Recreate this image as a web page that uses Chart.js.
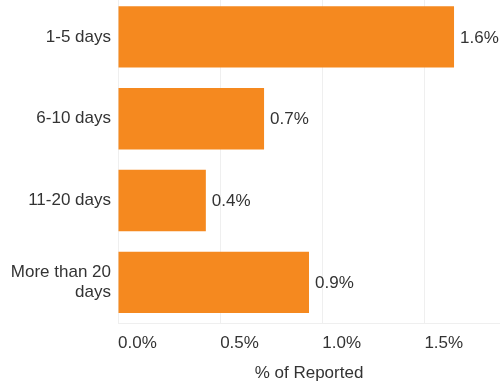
<!DOCTYPE html>
<html>
<head>
<meta charset="utf-8">
<script src="https://cdn.jsdelivr.net/npm/chart.js@4"></script>
<style>
  body { margin: 0; background: #fff; overflow: hidden; }
  #wrap { position: relative; width: 500px; height: 383px; overflow: hidden; }
  #chart { position: absolute; left: 0; top: -4px; }
</style>
</head>
<body>
<div id="wrap"><canvas id="chart" width="500" height="389"></canvas></div>
<script>
const categories = [["1-5 days"], ["6-10 days"], ["11-20 days"], ["More than 20", "days"]];
const reported = [1.645, 0.715, 0.43, 0.935];
const valueLabels = ["1.6%", "0.7%", "0.4%", "0.9%"];
const tickValues = [0, 0.5, 1.0, 1.5];

const fontFamily = '"Liberation Sans", Arial, sans-serif';

// draws the value next to each bar end
const barLabels = {
    id: 'barLabels',
    afterDatasetsDraw(chart) {
        const ctx = chart.ctx;
        const meta = chart.getDatasetMeta(0);
        ctx.save();
        ctx.font = '17px ' + fontFamily;
        ctx.fillStyle = '#333';
        ctx.textAlign = 'left';
        ctx.textBaseline = 'middle';
        meta.data.forEach(function(bar, i) {
            ctx.fillText(valueLabels[i], bar.x + 6, bar.y + 1);
        });
        ctx.restore();
    }
};

new Chart("chart", {
    type: 'bar',
    data: {
        labels: categories,
        datasets: [{
            data: reported,
            backgroundColor: "#F5891F",
            barPercentage: 0.75,
            categoryPercentage: 1
        }]
    },
    options: {
        indexAxis: 'y',
        responsive: false,
        animation: false,
        layout: {
            padding: { top: 0, right: 0, bottom: 0, left: 0 }
        },
        plugins: {
            legend: { display: false },
            tooltip: { enabled: false }
        },
        scales: {
            x: {
                min: 0,
                max: 1.87,
                afterBuildTicks: function(axis) {
                    axis.ticks = tickValues.map(v => ({ value: v }));
                },
                grid: { color: '#efefef', drawTicks: false },
                border: { display: true, color: '#efefef' },
                ticks: {
                    align: 'start',
                    padding: 10,
                    color: '#333',
                    font: { size: 17, family: fontFamily },
                    callback: function(v) { return v.toFixed(1) + '%'; }
                },
                title: {
                    display: true,
                    text: '% of Reported',
                    color: '#333',
                    padding: { top: 0, bottom: 1 },
                    font: { size: 17, family: fontFamily }
                }
            },
            y: {
                grid: { display: false, drawTicks: false, tickLength: 0 },
                border: { display: false },
                afterFit: function(scale) {
                    scale.width = 118;
                    scale.paddingTop = 0;
                    scale.paddingBottom = 0;
                },
                ticks: {
                    padding: 7,
                    color: '#333',
                    font: { size: 17, family: fontFamily }
                }
            }
        }
    },
    plugins: [barLabels]
});
</script>
</body>
</html>
